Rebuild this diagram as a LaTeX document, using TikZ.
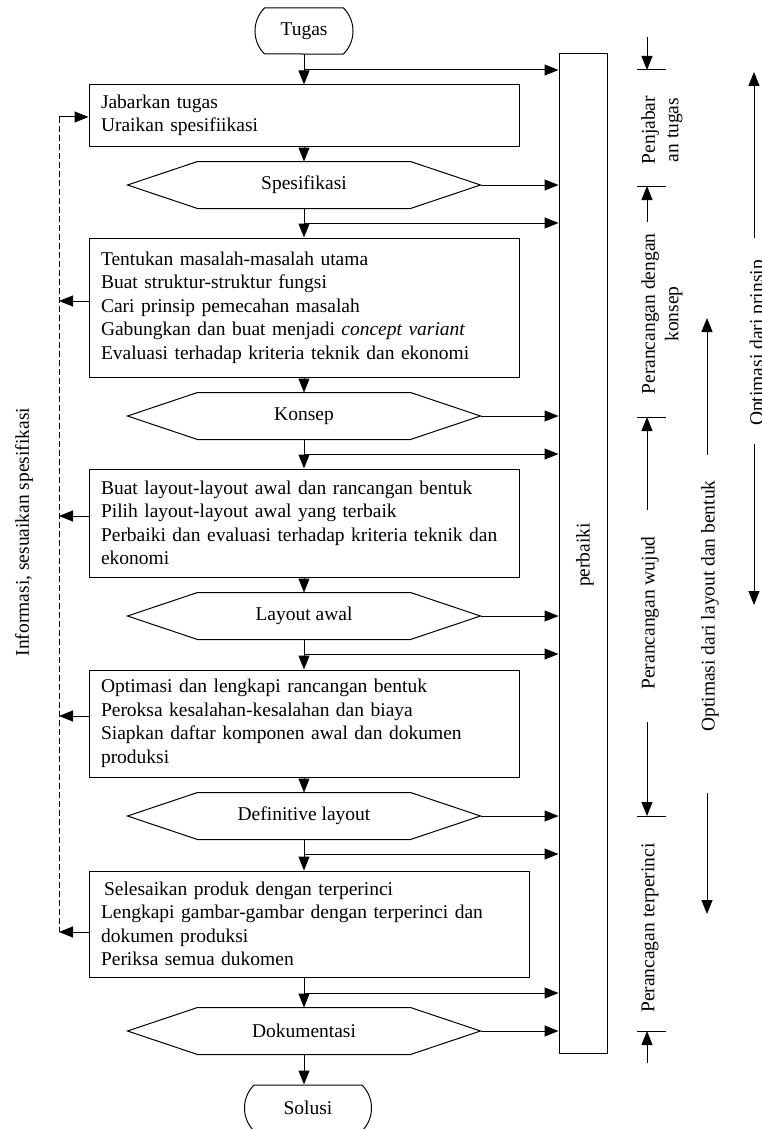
\documentclass[tikz,border=0pt]{standalone}
\usepackage{fontspec}
\setmainfont{Liberation Serif}
\usetikzlibrary{arrows.meta,shapes.misc}

\begin{document}
\begin{tikzpicture}[x=1pt,y=-1pt,line width=1pt,
    every node/.style={font=\fontsize{19.5}{23.5}\selectfont},
    arr/.style={-{Triangle[length=14pt,width=11pt]}},
    kotak/.style={draw,text width=406pt,inner xsep=12pt,inner ysep=0pt,align=left},
    heks/.style={minimum width=352pt,minimum height=46pt,inner sep=0pt},
    ujung/.style={draw,rounded rectangle,rounded rectangle arc length=90,minimum height=46pt,inner sep=0pt}]
    \useasboundingbox (0,0) rectangle (762,1129);

    % Alur utama
    \node[ujung,minimum width=98pt] (tugas) at (304,31) {Tugas};
    \node[kotak,minimum height=61pt] (jabar) at (304,115.5) {Jabarkan tugas\\Uraikan spesifiikasi};
    \node[heks] (spek) at (304,185) {Spesifikasi};
    \node[kotak,minimum height=139pt] (masalah) at (304,307.5) {Tentukan masalah-masalah utama\\Buat struktur-struktur fungsi\\Cari prinsip pemecahan masalah\\Gabungkan dan buat menjadi \textit{concept variant}\\Evaluasi terhadap kriteria teknik dan ekonomi};
    \node[heks] (konsep) at (304,416) {Konsep};
    \node[kotak,minimum height=108pt] (layout) at (304,523) {Buat layout-layout awal dan rancangan bentuk\\Pilih layout-layout awal yang terbaik\\Perbaiki dan evaluasi terhadap kriteria teknik dan\\ekonomi};
    \node[heks] (lawal) at (304,616) {Layout awal};
    \node[kotak,minimum height=107pt] (optimasi) at (304,723.5) {Optimasi dan lengkapi rancangan bentuk\\Peroksa kesalahan-kesalahan dan biaya\\Siapkan daftar komponen awal dan dokumen\\produksi};
    \node[heks] (deflay) at (304,816) {Definitive layout};
    \node[kotak,text width=416pt,minimum height=106pt] (selesai) at (309,924) {\hspace*{3pt}Selesaikan produk dengan terperinci\\Lengkapi gambar-gambar dengan terperinci dan\\dokumen produksi\\Periksa semua dukomen};
    \node[heks] (dok) at (304,1031) {Dokumentasi};
    \node[ujung,minimum width=127pt] (solusi) at (308,1108) {Solusi};

    % Segi enam
    \foreach \h in {spek,konsep,lawal,deflay,dok}
        \draw (\h.west) -- ([xshift=70pt]\h.north west) -- ([xshift=-70pt]\h.north east)
            -- (\h.east) -- ([xshift=-70pt]\h.south east) -- ([xshift=70pt]\h.south west) -- cycle;

    % Kotak perbaiki
    \node[draw,minimum width=48pt,minimum height=999pt,inner sep=0pt] (perbaiki) at (583,553.5) {};
    \node[rotate=90] (perbaikiteks) at (585,555) {perbaiki};

    % Panah utama
    \foreach \a/\b in {tugas/jabar,jabar/spek,spek/masalah,masalah/konsep,konsep/layout,layout/lawal,lawal/optimasi,optimasi/deflay}
        \draw[arr] (\a.south) -- (\b.north);
    \draw[arr] (deflay.south) -- (deflay.south |- selesai.north);
    \draw[arr] (dok.north |- selesai.south) -- (dok.north);
    \draw[arr] (dok.south) -- (dok.south |- solusi.north);

    % Cabang ke perbaiki
    \foreach \n/\y in {0/70,1/223,2/454,3/654,4/854,5/993} {
        \coordinate (c\n) at (304,\y);
        \draw[arr] (c\n) -- (c\n -| perbaiki.west);
    }
    \foreach \h in {spek,konsep,lawal,deflay,dok}
        \draw[arr] (\h.east) -- (\h.east -| perbaiki.west);

    % Umpan balik informasi
    \coordinate (infoatas) at (59,117);
    \coordinate (infobawah) at (59,932);
    \draw[dash pattern=on 6pt off 3pt] (infoatas) -- (infobawah);
    \draw[arr] (infoatas) -- (infoatas -| jabar.west);
    \foreach \b/\dy in {masalah/6.5,layout/7,optimasi/7.5,selesai/-8}
        \draw[arr] ([yshift=\dy pt]\b.west) -- ([yshift=\dy pt]\b.west -| infoatas);
    \node[rotate=90] (info) at (24,532) {Informasi, sesuaikan spesifikasi};

    % Tahapan di kanan
    \foreach \n/\y in {1/70,2/186,3/417,4/816,5/1031} {
        \coordinate (t\n) at (647,\y);
        \draw ([xshift=-10pt]t\n) -- ([xshift=19pt]t\n);
    }
    \coordinate (k1a) at (647,37);
    \coordinate (k1b) at (647,222);
    \coordinate (k1c) at (647,510);
    \coordinate (k1d) at (647,722);
    \coordinate (k1e) at (647,1063);
    \draw[arr] (k1a) -- (t1);
    \draw[arr] (k1b) -- (t2);
    \draw[arr] (k1c) -- (t3);
    \draw[arr] (k1d) -- (t4);
    \draw[arr] (k1e) -- (t5);
    \node[rotate=90,align=center] (lpenjabar) at (662,130) {Penjabar\\an tugas};
    \node[rotate=90,align=center] (lkonsep) at (662,314) {Perancangan dengan\\konsep};
    \node[rotate=90] (lwujud) at (650,613) {Perancangan wujud};
    \node[rotate=90] (lrinci) at (650,928) {Perancagan terperinci};

    % Optimasi
    \coordinate (k2a) at (707,455);
    \coordinate (k2b) at (707,318);
    \coordinate (k2c) at (707,793);
    \coordinate (k2d) at (707,914);
    \draw[arr] (k2a) -- (k2b);
    \draw[arr] (k2c) -- (k2d);
    \node[rotate=90] (llayout) at (710,606) {Optimasi dari layout dan bentuk};
    \coordinate (k3a) at (754,238);
    \coordinate (k3b) at (754,72);
    \coordinate (k3c) at (754,444);
    \coordinate (k3d) at (754,605);
    \draw[arr] (k3a) -- (k3b);
    \draw[arr] (k3c) -- (k3d);
    \node[rotate=90,anchor=base] (lprinsip) at (763,343) {Optimasi dari prinsip};
\end{tikzpicture}
\end{document}
